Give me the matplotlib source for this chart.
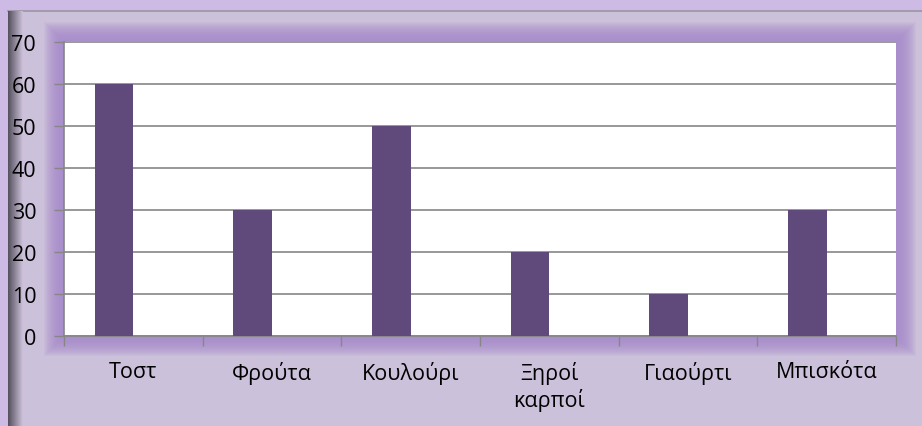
import matplotlib.pyplot as plt
from matplotlib.patches import Rectangle
from matplotlib.colors import LinearSegmentedColormap
import numpy as np

plt.rcParams['font.family'] = ['Open Sans', 'DejaVu Sans']

categories = ['Τοστ', 'Φρούτα', 'Κουλούρι', 'Ξηροί\nκαρποί', 'Γιαούρτι', 'Μπισκότα']
values = [60, 30, 50, 20, 10, 30]
yticks = [0, 10, 20, 30, 40, 50, 60, 70]

W, H = 922, 427
fig = plt.figure(figsize=(W / 100, H / 100), dpi=100)
fig.patch.set_facecolor('#cdbbe5')

# panel behind chart
fig.patches.append(Rectangle((8 / W, 0), 1, (H - 12) / H, transform=fig.transFigure,
                             facecolor='#ccc1da', edgecolor='none', zorder=-5))
fig.add_artist(plt.Line2D([8 / W, 1], [(H - 12) / H] * 2, transform=fig.transFigure,
                          color='#9a94a2', lw=1.2, zorder=-4))
# dark shading on the left edge of the panel
grad = fig.add_axes([8 / W, 0, 14 / W, (H - 12) / H], zorder=-4)
grad.imshow(np.linspace(0, 1, 50)[None, :],
            cmap=LinearSegmentedColormap.from_list('g', ['#55505c', '#ccc1da']),
            aspect='auto', extent=[0, 1, 0, 1])
grad.axis('off')

# plot area
L, R, B, T = 64, 896, 337, 43

# purple glow around plot area
for k in range(20, 0, -1):
    fig.patches.append(Rectangle(((L - k) / W, (H - B - k) / H), (R - L + 2 * k) / W,
                                 (B - T + 2 * k) / H, transform=fig.transFigure,
                                 facecolor='#a98bcc', edgecolor='none', alpha=0.1, zorder=-3))

ax = fig.add_axes([L / W, (H - B) / H, (R - L) / W, (B - T) / H], zorder=1)

x = np.arange(len(categories))
ax.bar(x - 0.14, values, width=0.28, color='#604a7b', zorder=3)

ax.set_xlim(-0.5, len(categories) - 0.5)
ax.set_ylim(0, 70)
ax.set_yticks(yticks)
ax.yaxis.grid(True, color='#868686', lw=1.2, zorder=0)
ax.set_axisbelow(True)
ax.tick_params(axis='y', length=7, width=1, color='#868686', pad=13, labelsize=15.5)

ax.set_xticks(x)
ax.set_xticklabels(categories, fontsize=15.5, linespacing=1.2, va='top')
ax.set_xticks(np.arange(len(categories) + 1) - 0.5, minor=True)
ax.tick_params(axis='x', which='major', length=0, pad=18)
ax.tick_params(axis='x', which='minor', length=7, width=1, color='#868686')

for s in ['top', 'right']:
    ax.spines[s].set_visible(False)
for s in ['left', 'bottom']:
    ax.spines[s].set_color('#868686')
    ax.spines[s].set_linewidth(1.2)

fig.savefig('out.png', dpi=100, facecolor=fig.get_facecolor())
